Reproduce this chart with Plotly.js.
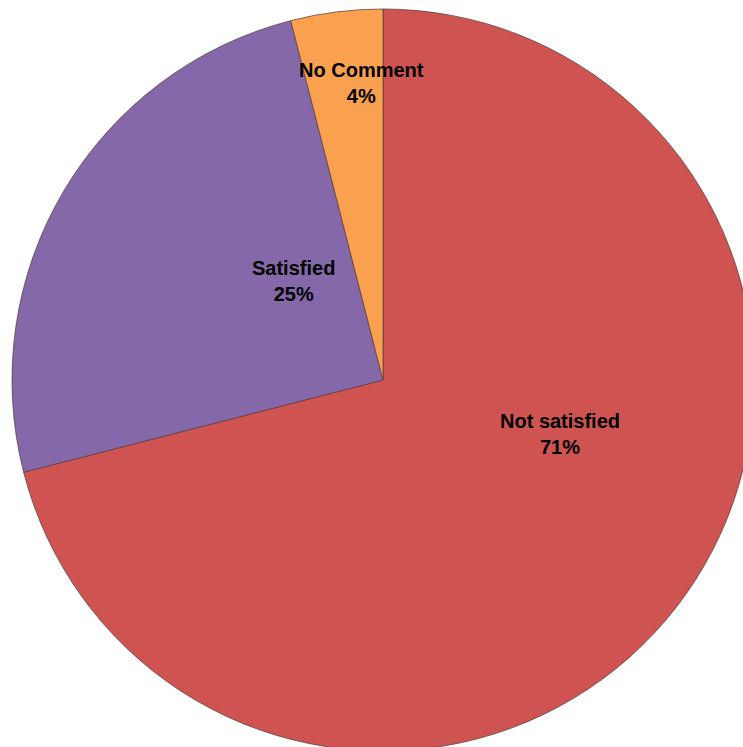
<!DOCTYPE html>
<html>
<head>
<meta charset="utf-8">
<script src="https://cdn.plot.ly/plotly-3.0.1.min.js"></script>
<style>
html,body{margin:0;padding:0;overflow:hidden;background:#fff;width:743px;height:747px;}
#chart{width:760px;height:760px;}
</style>
</head>
<body>
<div id="chart"></div>
<script>
// Data
var categories = ["Not satisfied", "Satisfied", "No Comment"];
var values = [71, 25, 4];
var sliceColors = ["#CF5451", "#8568A9", "#F9A14F"];

// Label placement (pixel centres in the 760x760 plot)
var labelPx = [[560, 434], [293, 281], [361, 83]];

var W = 760, H = 760;
var annotations = categories.map(function (c, i) {
  return {
    text: "<b>" + c + "<br>" + values[i] + "%</b>",
    x: labelPx[i][0] / W,
    y: 1 - labelPx[i][1] / H,
    xref: "paper", yref: "paper",
    xanchor: "center", yanchor: "middle",
    showarrow: false,
    align: "center",
    font: {family: "'Liberation Sans', Arial, sans-serif", size: 20, color: "#000"}
  };
});

var trace = {
  type: "pie",
  labels: categories,
  values: values,
  sort: false,
  direction: "clockwise",
  rotation: 0,
  textinfo: "none",
  hoverinfo: "label+percent",
  marker: {colors: sliceColors, line: {color: "rgba(90,60,60,0.75)", width: 1}},
  domain: {x: [12 / W, 754 / W], y: [1 - 751 / H, 1 - 9 / H]}
};

var layout = {
  width: W, height: H,
  margin: {l: 0, r: 0, t: 0, b: 0},
  showlegend: false,
  paper_bgcolor: "#fff",
  annotations: annotations
};

Plotly.newPlot("chart", [trace], layout, {displayModeBar: false, staticPlot: true});
</script>
</body>
</html>
